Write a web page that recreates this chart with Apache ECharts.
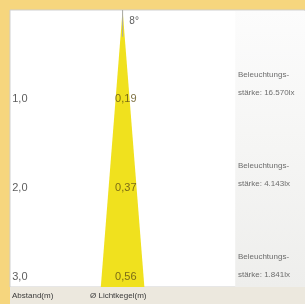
<!DOCTYPE html>
<html><head><meta charset="utf-8">
<script src="https://cdn.jsdelivr.net/npm/echarts@6/dist/echarts.min.js"></script>
<style>html,body{margin:0;padding:0;background:#f6d67e}#c{width:305px;height:304px}</style>
</head><body><div id="c"></div>
<script>
const distances = [1.0, 2.0, 3.0];
const distanceLabels = ['1,0', '2,0', '3,0'];
const diameters = [0.19, 0.37, 0.56];
const diameterLabels = ['0,19', '0,37', '0,56'];
const illuminance = ['16.570lx', '4.143lx', '1.841lx'];
const beamAngle = '8°';
const axisTitles = ['Abstand(m)', 'Ø Lichtkegel(m)'];

const yMax = 3.11, xMax = 3.93, center = 1.5;
const spread = diameters[2] / distances[2];

const chart = echarts.init(document.getElementById('c'), null, {renderer: 'canvas'});
const font = 'Liberation Sans, Arial, sans-serif';
chart.setOption({
  backgroundColor: '#f6d67e',
  animation: false,
  grid: {left: 10, right: 0, top: 10, bottom: 17, show: true, backgroundColor: '#ffffff', borderColor: '#cfcfcf', borderWidth: 1},
  xAxis: {type: 'value', min: 0, max: xMax, show: false},
  yAxis: {type: 'value', min: 0, max: yMax, inverse: true, show: false},
  graphic: [
    {type: 'rect', shape: {x: 10, y: 287, width: 295, height: 17}, style: {fill: '#ece8de'}, z: 0},
    {type: 'text', left: 12, top: 292, style: {text: axisTitles[0], font: '8px ' + font, fill: '#3a3a3a'}},
    {type: 'text', left: 90, top: 292, style: {text: axisTitles[1], font: '8px ' + font, fill: '#3a3a3a'}}
  ],
  series: [
    {
      type: 'custom', silent: true, z: 1,
      data: [[3.0, xMax]],
      renderItem: function (params, api) {
        const p0 = api.coord([api.value(0), 0]);
        const p1 = api.coord([api.value(1), yMax]);
        return {type: 'rect', shape: {x: p0[0], y: p0[1] + 1, width: p1[0] - p0[0], height: p1[1] - p0[1] - 1},
          style: {fill: {type: 'linear', x: 0, y: 0, x2: 0, y2: 1, colorStops: [{offset: 0, color: '#fcfcfc'}, {offset: 1, color: '#eeeeec'}]}}};
      }
    },
    {
      type: 'custom', silent: true, z: 2,
      data: [[center, yMax]],
      renderItem: function (params, api) {
        const c = api.value(0), d = api.value(1);
        const r = spread * d / 2;
        const a = api.coord([c, 0]);
        const l = api.coord([c - r, d]);
        const rr = api.coord([c + r, d]);
        const top = api.coord([c, 0.3]);
        return {type: 'group', children: [
          {type: 'polygon', shape: {points: [a, rr, l]}, style: {fill: '#f0e11e'}},
          {type: 'line', shape: {x1: a[0], y1: a[1], x2: top[0], y2: top[1]}, style: {stroke: '#a8a8a8', lineWidth: 1}}
        ]};
      }
    },
    {
      type: 'scatter', symbolSize: 0, z: 5, silent: true,
      data: distances.map((d, i) => ({value: [0.03, d], name: distanceLabels[i]})),
      label: {show: true, position: 'right', distance: 0, formatter: p => p.name, fontSize: 11, fontFamily: font, color: '#333333'}
    },
    {
      type: 'scatter', symbolSize: 0, z: 5, silent: true,
      data: distances.map((d, i) => ({value: [center - 0.1, d], name: diameterLabels[i]})),
      label: {show: true, position: 'right', distance: 0, formatter: p => p.name, fontSize: 11, fontFamily: font, color: '#5e4e14'}
    },
    {
      type: 'scatter', symbolSize: 0, z: 5, silent: true,
      data: [{value: [center + 0.09, 0.13], name: beamAngle}],
      label: {show: true, position: 'right', distance: 0, formatter: p => p.name, fontSize: 10, fontFamily: font, color: '#333333'}
    },
    {
      type: 'scatter', symbolSize: 0, z: 5, silent: true, clip: false,
      data: distances.map((d, i) => ({value: [2.97, d + 0.085 + i * 0.02], name: illuminance[i]})),
      label: {show: true, position: 'insideBottomLeft', offset: [0, 0], formatter: p => 'Beleuchtungs-\nstärke: ' + p.name,
        fontSize: 8, lineHeight: 18, fontFamily: font, color: '#4a4a4a', align: 'left', verticalAlign: 'bottom'}
    }
  ]
});
</script></body></html>
